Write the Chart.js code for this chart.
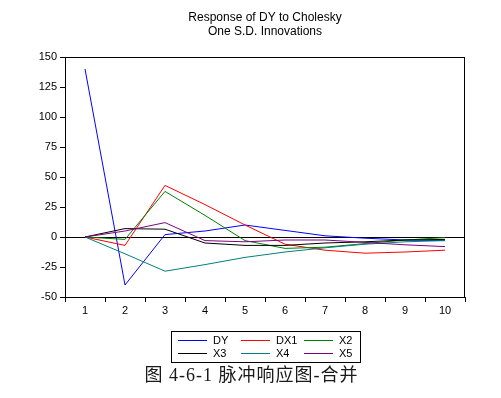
<!DOCTYPE html>
<html>
<head>
<meta charset="utf-8">
<script src="https://cdn.jsdelivr.net/npm/chart.js@4"></script>
<style>
html,body{margin:0;padding:0;background:#fff;}
#wrap{width:501px;height:398px;position:relative;}
</style>
</head>
<body>
<div id="wrap"><canvas id="c" width="501" height="398"></canvas></div>
<script>
const categories = ['1','2','3','4','5','6','7','8','9','10'];
const DY  = [140, -40, 2, 5, 10, 5.5, 1, -1, -2.5, -3];
const DX1 = [0, -7, 43, 27, 10, -6, -11, -13.5, -12.5, -11];
const X2  = [0, -2, 38, 18, -3, -9.5, -8.5, -5.5, -2.5, -0.5];
const X3  = [0, 7, 6.5, -5, -7, -7, -5, -4, -2.5, -2];
const X4  = [0, -14, -28.5, -23, -17, -12.5, -9, -6, -4, -3];
const X5  = [0, 5, 12, -3, -4, -2.5, -2.5, -4.5, -6.5, -8];
const seriesNames = ['DY','DX1','X2','X3','X4','X5'];
const titleLines = ['Response of DY to Cholesky','One S.D. Innovations'];
const caption = '图 4-6-1 脉冲响应图-合并';

const colors = ['#0000ff','#ff0000','#008000','#000000','#008080','#800080'];
const seriesData = [DY, DX1, X2, X3, X4, X5];

const datasets = seriesData.map((d,i)=>({
  label: seriesNames[i], data: d, borderColor: colors[i], backgroundColor: colors[i],
  borderWidth: 1, pointRadius: 0, tension: 0, fill: false, order: 6 - i
}));

const decor = {
  id:'decor',
  afterDraw(chart){
    const ctx = chart.ctx, a = chart.chartArea;
    ctx.save();
    // frame
    ctx.strokeStyle = '#000'; ctx.lineWidth = 1;
    ctx.strokeRect(Math.round(a.left)+0.5, Math.round(a.top)+0.5, Math.round(a.right-a.left)-1, Math.round(a.bottom-a.top));
    // title
    ctx.fillStyle = '#000';
    ctx.font = '12px "Liberation Sans", Arial, sans-serif';
    ctx.textAlign = 'center'; ctx.textBaseline = 'middle';
    const cx = (a.left + a.right)/2;
    ctx.fillText(titleLines[0], cx, 18);
    ctx.fillText(titleLines[1], cx, 32);
    // legend box
    const bx = 171, by = 331, bw = 189, bh = 31;
    ctx.strokeRect(bx+0.5, by+0.5, bw, bh);
    ctx.font = '11px "Liberation Sans", Arial, sans-serif';
    ctx.textAlign = 'left';
    for (let i=0;i<6;i++){
      const col = i%3, row = Math.floor(i/3);
      const lx = 178 + col*63, ly = 340 + row*13;
      ctx.strokeStyle = colors[i];
      ctx.beginPath(); ctx.moveTo(lx, ly+0.5); ctx.lineTo(lx+29, ly+0.5); ctx.stroke();
      ctx.fillStyle = '#000';
      ctx.fillText(seriesNames[i], lx+35, ly+1);
    }
    // caption
    ctx.fillStyle = '#1a1a1a';
    ctx.font = '18px "Liberation Serif", "Noto Sans CJK SC", serif';
    ctx.textAlign = 'left';
    if ('letterSpacing' in ctx) ctx.letterSpacing = '1px';
    const w = ctx.measureText(caption).width;
    ctx.fillText(caption, 251.5 - w/2, 376);
    ctx.restore();
  }
};

new Chart(document.getElementById('c'), {
  type:'line',
  data:{ labels: categories, datasets },
  options:{
    responsive:false, animation:false, devicePixelRatio:1,
    layout:{ padding:{ top:57, right:36, bottom:81, left:0 } },
    plugins:{ legend:{display:false}, tooltip:{enabled:false}, title:{display:false} },
    scales:{
      x:{
        offset:true,
        grid:{ offset:true, drawOnChartArea:false, drawTicks:true, tickLength:5, color:'#000', tickColor:'#000' },
        border:{ display:true, color:'#000', width:1 },
        ticks:{ color:'#000', font:{ family:'"Liberation Sans", Arial, sans-serif', size:11 }, padding:2, maxRotation:0, autoSkip:false },
        afterFit(s){ s.height = 20; }
      },
      y:{
        min:-50, max:150,
        ticks:{ stepSize:25, color:'#000', font:{ family:'"Liberation Sans", Arial, sans-serif', size:11 }, padding:3 },
        grid:{ drawOnChartArea:true, drawTicks:true, tickLength:5, tickColor:'#000',
               color: c => (c.tick && c.tick.value === 0) ? '#000' : 'rgba(0,0,0,0)' },
        border:{ display:true, color:'#000', width:1 },
        afterFit(s){ s.width = 65; }
      }
    }
  },
  plugins:[decor]
});
</script>
</body>
</html>
